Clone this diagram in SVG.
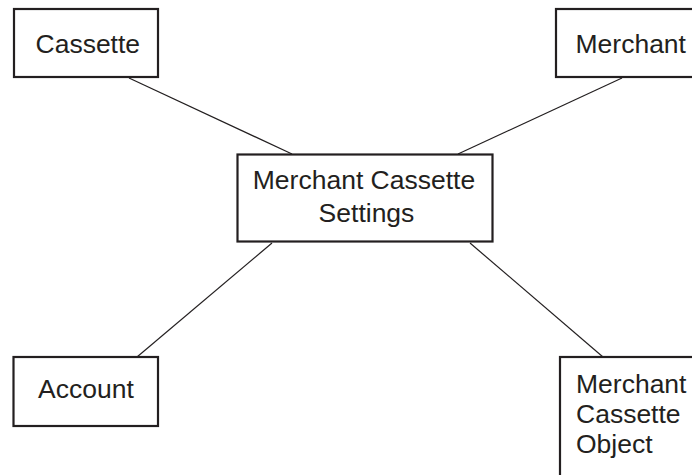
<svg xmlns="http://www.w3.org/2000/svg" width="692" height="475" viewBox="0 0 692 475">
  <style>
    .box { fill: #ffffff; stroke: #231f20; stroke-width: 2.2; }
    .lbl { font-family: "Liberation Sans", Arial, sans-serif; font-size: 26.5px; fill: #231f20; }
    .conn { stroke: #231f20; stroke-width: 1.2; fill: none; }
  </style>
  <rect width="692" height="475" fill="#ffffff"/>
  <g id="connectors">
    <line class="conn" x1="129" y1="78" x2="292" y2="154"/>
    <line class="conn" x1="622" y1="78" x2="458" y2="154"/>
    <line class="conn" x1="137" y1="357" x2="272" y2="243"/>
    <line class="conn" x1="603" y1="357" x2="470" y2="243"/>
  </g>
  <g id="cassette">
    <rect class="box" x="14" y="9" width="144" height="68"/>
    <text class="lbl" x="35.5" y="53">Cassette</text>
  </g>
  <g id="merchant">
    <rect class="box" x="556" y="9" width="150" height="68"/>
    <text class="lbl" x="575.5" y="53">Merchant</text>
  </g>
  <g id="merchant-cassette-settings">
    <rect class="box" x="237.5" y="154.5" width="255" height="87"/>
    <text class="lbl" x="364" y="188.5" text-anchor="middle">Merchant Cassette</text>
    <text class="lbl" x="366.5" y="221.5" text-anchor="middle">Settings</text>
  </g>
  <g id="account">
    <rect class="box" x="13.5" y="357" width="144.5" height="69"/>
    <text class="lbl" x="38" y="398">Account</text>
  </g>
  <g id="merchant-cassette-object">
    <rect class="box" x="560" y="357" width="150" height="130"/>
    <text class="lbl" x="576" y="393">Merchant</text>
    <text class="lbl" x="576" y="423">Cassette</text>
    <text class="lbl" x="576" y="453">Object</text>
  </g>
</svg>
